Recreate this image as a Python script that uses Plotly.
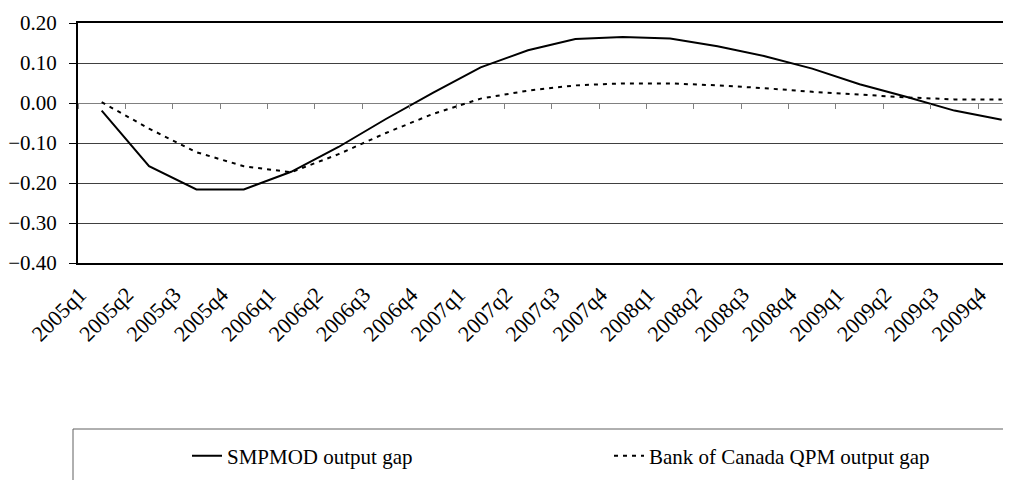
import plotly.graph_objects as go

quarters = ["2005q1", "2005q2", "2005q3", "2005q4",
            "2006q1", "2006q2", "2006q3", "2006q4",
            "2007q1", "2007q2", "2007q3", "2007q4",
            "2008q1", "2008q2", "2008q3", "2008q4",
            "2009q1", "2009q2", "2009q3", "2009q4"]

smpmod_gap = [-0.019, -0.158, -0.216, -0.216, -0.172, -0.110, -0.040, 0.026,
              0.089, 0.132, 0.160, 0.165, 0.161, 0.142, 0.117, 0.086,
              0.047, 0.015, -0.019, -0.042]

qpm_gap = [0.002, -0.064, -0.123, -0.158, -0.173, -0.128, -0.075, -0.027,
           0.011, 0.031, 0.044, 0.049, 0.049, 0.044, 0.037, 0.028,
           0.021, 0.014, 0.009, 0.009]

y_ticks = [0.20, 0.10, 0.00, -0.10, -0.20, -0.30, -0.40]

FONT = "Liberation Serif, Times New Roman, serif"
XRANGE = [-0.5, 19.365]

fig = go.Figure()
fig.add_trace(go.Scatter(
    x=quarters, y=smpmod_gap, mode="lines", name="SMPMOD output gap",
    line=dict(color="black", width=2), legend="legend", showlegend=True,
))
fig.add_trace(go.Scatter(
    x=quarters, y=qpm_gap, mode="lines", name="Bank of Canada QPM output gap",
    line=dict(color="black", width=2, dash="4px,5px"), legend="legend2",
    showlegend=True, xaxis="x2",
))

fig.update_layout(
    width=1011, height=480,
    margin=dict(l=70, r=0, t=15, b=225),
    paper_bgcolor="white", plot_bgcolor="white",
    showlegend=True,
    font=dict(family=FONT, color="black", size=20),
    xaxis=dict(
        type="category", categoryorder="array", categoryarray=quarters,
        range=XRANGE, showgrid=False, zeroline=False,
        showline=True, linecolor="black", linewidth=2, mirror=True,
        ticks="", tickangle=-45, automargin=False,
        ticklabelstandoff=8, ticklabelshift=-22,
        tickfont=dict(family=FONT, size=22, color="black"),
    ),
    xaxis2=dict(
        type="category", categoryorder="array", categoryarray=quarters,
        range=XRANGE, overlaying="x", anchor="free", position=160 / 240,
        side="bottom", showgrid=False, zeroline=False, showline=False,
        ticks="outside", ticklen=5, tickcolor="#808080", tickwidth=1,
        tickson="boundaries", showticklabels=False, automargin=False,
    ),
    yaxis=dict(
        range=[-0.40, 0.20], tickvals=y_ticks, tickformat=".2f",
        showgrid=True, gridcolor="#404040", gridwidth=1,
        zeroline=True, zerolinecolor="#808080", zerolinewidth=1,
        showline=True, linecolor="black", linewidth=2,
        ticks="outside", ticklen=7, tickcolor="black", tickwidth=1,
        ticklabelstandoff=8, automargin=False,
        tickfont=dict(family=FONT, size=21, color="black"),
    ),
    legend=dict(
        x=(179 - 70) / 941, xanchor="left", y=(255 - 448) / 240, yanchor="middle",
        bgcolor="rgba(0,0,0,0)", borderwidth=0,
        font=dict(family=FONT, size=21, color="black"),
    ),
    legend2=dict(
        x=(601 - 70) / 941, xanchor="left", y=(255 - 448) / 240, yanchor="middle",
        bgcolor="rgba(0,0,0,0)", borderwidth=0,
        font=dict(family=FONT, size=21, color="black"),
    ),
    shapes=[dict(
        type="rect", xref="paper", yref="paper",
        x0=(65 - 70) / 941, x1=1.2, y0=(255 - 421) / 240, y1=-1.5,
        line=dict(color="#606060", width=1), fillcolor="rgba(0,0,0,0)",
        layer="below",
    )],
)

fig.write_html("out.html")
